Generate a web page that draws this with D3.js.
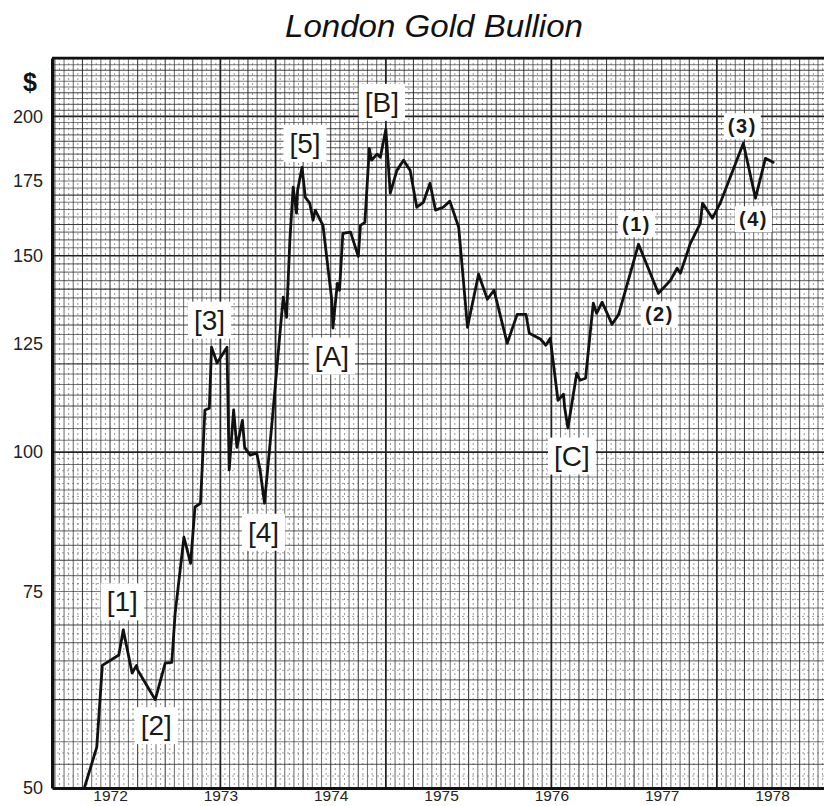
<!DOCTYPE html>
<html>
<head>
<meta charset="utf-8">
<script src="https://cdn.jsdelivr.net/npm/d3@7"></script>
<style>
  html, body { margin: 0; padding: 0; background: #fff; }
  svg { display: block; }
</style>
</head>
<body>
<svg id="chart" width="824" height="806"></svg>
<script>
// London gold bullion price, US$ per ounce (decimal year, price)
const years = [
  1971.77, 1971.88, 1971.93, 1972.08, 1972.12, 1972.20, 1972.24, 1972.25, 1972.41, 1972.50,
  1972.56, 1972.59, 1972.67, 1972.73, 1972.77, 1972.82, 1972.86, 1972.90, 1972.92, 1972.97,
  1973.06, 1973.08, 1973.12, 1973.15, 1973.20, 1973.22, 1973.27, 1973.33, 1973.36, 1973.40,
  1973.47, 1973.54, 1973.57, 1973.60, 1973.63, 1973.66, 1973.69, 1973.70, 1973.74, 1973.77,
  1973.81, 1973.84, 1973.86, 1973.93, 1974.01, 1974.02, 1974.06, 1974.08, 1974.11, 1974.18,
  1974.25, 1974.27, 1974.31, 1974.35, 1974.37, 1974.42, 1974.45, 1974.50, 1974.54, 1974.60,
  1974.66, 1974.72, 1974.78, 1974.84, 1974.90, 1974.95, 1975.02, 1975.08, 1975.16, 1975.24,
  1975.34, 1975.42, 1975.48, 1975.60, 1975.69, 1975.77, 1975.80, 1975.90, 1975.95, 1975.99,
  1976.06, 1976.11, 1976.12, 1976.15, 1976.23, 1976.26, 1976.31, 1976.38, 1976.41, 1976.46,
  1976.55, 1976.61, 1976.79, 1976.97, 1977.08, 1977.14, 1977.17, 1977.26, 1977.35, 1977.37,
  1977.46, 1977.53, 1977.74, 1977.85, 1977.94, 1978.01
];
const prices = [
  50.1, 54.4, 64.4, 65.8, 69.3, 63.4, 64.4, 63.8, 60.0, 64.7,
  64.8, 71.7, 83.9, 79.5, 89.3, 90.0, 109.1, 109.5, 124.2, 120.2,
  124.2, 96.4, 109.1, 101.0, 106.8, 101.0, 99.4, 99.8, 96.4, 90.0,
  106.8, 127.8, 137.7, 132.1, 154.9, 172.8, 163.8, 171.7, 180.0, 169.2,
  167.2, 161.4, 164.8, 159.7, 136.8, 129.2, 141.7, 139.7, 157.1, 157.5,
  149.8, 159.7, 160.7, 187.2, 182.7, 185.0, 183.8, 194.7, 170.7, 178.9,
  182.7, 178.9, 165.8, 167.5, 174.2, 164.8, 165.8, 167.9, 159.1, 129.4,
  144.4, 137.1, 139.7, 125.2, 132.9, 132.9, 127.8, 126.3, 124.7, 126.5,
  111.3, 112.7, 109.7, 105.1, 117.7, 116.0, 116.5, 136.0, 133.2, 136.3,
  130.2, 132.9, 153.6, 138.8, 142.6, 146.2, 144.7, 153.9, 160.4, 167.2,
  162.1, 167.2, 189.2, 168.9, 183.4, 181.9
];

// Axis ticks
const yearTicks = [1972, 1973, 1974, 1975, 1976, 1977, 1978];
const priceTicks = [50, 75, 100, 125, 150, 175, 200];

// Elliott wave labels and the turning point (index into the series) each one marks
const waveNames = ["[1]", "[2]", "[3]", "[4]", "[5]", "[A]", "[B]", "[C]", "(1)", "(2)", "(3)", "(4)"];
const waveIndex = [4, 8, 18, 29, 38, 45, 57, 83, 92, 93, 102, 103];

// Label offsets from their turning point, in pixels
const waveOffset = [
  [-1, -28], [1, 26], [-2, -27], [-1, 29], [3, -24], [-1, 28],
  [-4, -27], [4, 28], [-2, -20], [1, 21], [-1, -17], [-2, 21]
];

const svg = d3.select("#chart");
const W = 824, H = 806;
const plot = { left: 52, right: 824, top: 58, bottom: 788 };

const x = d3.scaleLinear().domain([1971.474, 1978.471]).range([plot.left, plot.right]);
const y = d3.scaleLog().domain([50, 225.6]).range([plot.bottom, plot.top]);

svg.append("rect").attr("width", W).attr("height", H).attr("fill", "#fff");

// ---- graph paper ----
const grid = svg.append("g").attr("class", "paper");

// vertical rulings: one per month, fine dotted ones between
const monthLines = d3.range(1971.5, 1978.5 + 1e-6, 1 / 12).filter(v => x(v) > plot.left + 1 && x(v) <= plot.right);
const halfMonthLines = monthLines.map(v => v + 1 / 24).filter(v => x(v) < plot.right);
const heavyYears = [1973, 1973.5, 1974.5, 1976, 1977.5];
const isHeavyYear = d => heavyYears.some(h => Math.abs(h - d) < 1e-3);

grid.selectAll("line.vdot").data(halfMonthLines).join("line")
  .attr("class", "vdot")
  .attr("x1", d => x(d)).attr("x2", d => x(d))
  .attr("y1", plot.top).attr("y2", plot.bottom)
  .attr("stroke", "#555").attr("stroke-width", 1)
  .attr("stroke-dasharray", "2 3").attr("opacity", 0.6);

grid.selectAll("line.vmonth").data(monthLines).join("line")
  .attr("class", "vmonth")
  .attr("x1", d => x(d)).attr("x2", d => x(d))
  .attr("y1", plot.top).attr("y2", plot.bottom)
  .attr("stroke", "#222")
  .attr("stroke-width", d => isHeavyYear(d) ? 1.8 : 1.1)
  .attr("opacity", (d, i) => isHeavyYear(d) ? 1 : (i % 3 === 0 ? 0.85 : 0.62));

// horizontal rulings every $2.5, dotted ones between on the lower half
const priceLines = d3.range(52.5, 226, 2.5);
const priceDots = d3.range(51.25, 100, 2.5);
const heavyPrices = [100, 150, 200];

grid.selectAll("line.hdot").data(priceDots).join("line")
  .attr("class", "hdot")
  .attr("x1", plot.left).attr("x2", plot.right)
  .attr("y1", d => y(d)).attr("y2", d => y(d))
  .attr("stroke", "#555").attr("stroke-width", 1)
  .attr("stroke-dasharray", "2 3").attr("opacity", 0.55);

grid.selectAll("line.hline").data(priceLines).join("line")
  .attr("class", "hline")
  .attr("x1", plot.left).attr("x2", plot.right)
  .attr("y1", d => y(d)).attr("y2", d => y(d))
  .attr("stroke", "#222")
  .attr("stroke-width", d => heavyPrices.includes(d) ? 1.7 : 1.1)
  .attr("opacity", d => heavyPrices.includes(d) ? 1 : (d % 10 === 0 ? 0.85 : 0.6));

// ---- frame ----
svg.append("line")
  .attr("x1", plot.left).attr("x2", plot.right)
  .attr("y1", plot.top).attr("y2", plot.top)
  .attr("stroke", "#111").attr("stroke-width", 2.5);

// ---- axes ----
const yAxis = svg.append("g")
  .attr("transform", `translate(${plot.left},0)`)
  .call(d3.axisLeft(y).tickValues(priceTicks).tickFormat(d3.format("d")).tickSize(0).tickPadding(9));
yAxis.select(".domain").attr("stroke", "#111").attr("stroke-width", 3);
yAxis.selectAll("text")
  .attr("font-family", "'Liberation Sans', Arial, sans-serif")
  .attr("font-size", 18).attr("fill", "#222");

const xAxis = svg.append("g")
  .attr("transform", `translate(0,${plot.bottom})`)
  .call(d3.axisBottom(x).tickValues(yearTicks).tickFormat(d3.format("d")).tickSize(0).tickPadding(2));
xAxis.select(".domain").attr("stroke", "#111").attr("stroke-width", 3);
xAxis.selectAll("text")
  .attr("font-family", "'Liberation Sans', Arial, sans-serif")
  .attr("font-size", 15.5).attr("fill", "#222");

svg.append("text")
  .attr("x", 30).attr("y", 91)
  .attr("text-anchor", "middle")
  .attr("font-family", "'Liberation Sans', Arial, sans-serif")
  .attr("font-weight", "bold").attr("font-size", 25).attr("fill", "#111")
  .text("$");

// ---- title ----
svg.append("text")
  .attr("x", 434).attr("y", 37)
  .attr("text-anchor", "middle")
  .attr("font-family", "'Liberation Sans', Arial, sans-serif")
  .attr("font-style", "italic").attr("font-size", 32).attr("fill", "#111")
  .attr("textLength", 298).attr("lengthAdjust", "spacingAndGlyphs")
  .text("London Gold Bullion");

// ---- price line ----
const series = years.map((t, i) => ({ t, p: prices[i] }));
const line = d3.line().x(d => x(d.t)).y(d => y(d.p));

svg.append("path")
  .datum(series)
  .attr("d", line)
  .attr("fill", "none")
  .attr("stroke", "#111")
  .attr("stroke-width", 2.8)
  .attr("stroke-linejoin", "round")
  .attr("stroke-linecap", "round");

// ---- wave labels on white patches ----
const labels = svg.append("g").attr("class", "waves");
waveNames.forEach((name, k) => {
  const pt = series[waveIndex[k]];
  const cx = x(pt.t) + waveOffset[k][0];
  const cy = y(pt.p) + waveOffset[k][1];
  const isMajor = name.startsWith("[");
  const g = labels.append("g");
  const t = g.append("text")
    .attr("x", cx).attr("y", cy)
    .attr("text-anchor", "middle")
    .attr("dominant-baseline", "central")
    .attr("font-family", "'Liberation Sans', Arial, sans-serif")
    .attr("font-size", isMajor ? 28 : 20)
    .attr("font-weight", isMajor ? "normal" : "bold")
    .attr("letter-spacing", isMajor ? 0 : 1.5)
    .attr("fill", "#1a1a1a")
    .text(name);
  const b = t.node().getBBox();
  const pad = isMajor ? 6 : 4;
  g.insert("rect", "text")
    .attr("x", b.x - pad).attr("y", b.y - pad / 2)
    .attr("width", b.width + 2 * pad).attr("height", b.height + pad)
    .attr("fill", "#fff");
});
</script>
</body>
</html>
